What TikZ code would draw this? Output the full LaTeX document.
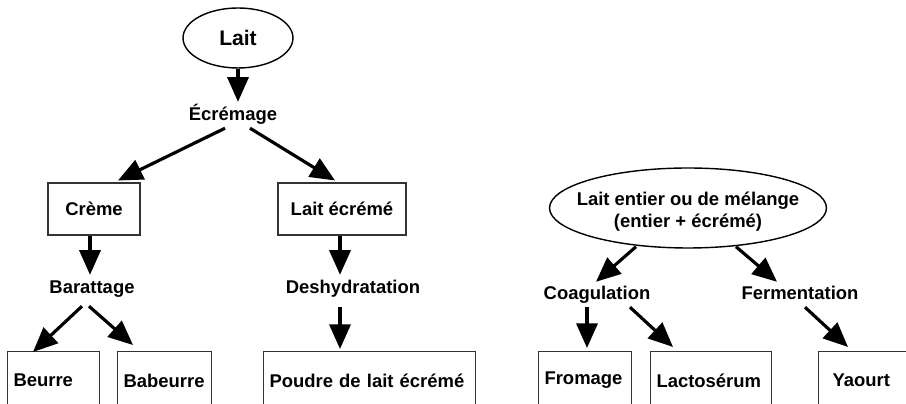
\documentclass[tikz,border=0pt]{standalone}
\usepackage{fontspec}
\setmainfont{Liberation Sans}
\usetikzlibrary{arrows.meta,shapes.geometric,calc,positioning}

\tikzset{
  etape/.style={font=\bfseries\fontsize{10.5}{12.6}\selectfont, inner sep=1pt, text height=9pt, text depth=2.5pt},
  produit/.style={draw=black!80, line width=0.6pt, rectangle, minimum height=1.04cm, font=\bfseries\fontsize{10.5}{12.6}\selectfont},
  bas/.style={produit, anchor=north west, minimum height=1.16cm, inner xsep=0.12cm, align=left},
  fleche/.style={-{Triangle[length=14pt,width=12pt]}, line width=1.8pt},
}

\begin{document}
\begin{tikzpicture}[x=0.02cm, y=-0.02cm]
        \useasboundingbox (0,0) rectangle (906,404);
        \clip (0,0) rectangle (906,404);

        % Left tree
        \node (lait) [draw, ellipse, line width=0.8pt, minimum width=2.2cm, minimum height=1.2cm, font=\bfseries\fontsize{12}{14}\selectfont] at (238,38) {Lait};
        \node (ecremage) [etape] at (233,115) {Écrémage};
        \node (creme) [produit, minimum width=1.84cm] at (94,209) {Crème};
        \node (laitecreme) [produit, minimum width=2.56cm] at (342,209) {Lait écrémé};
        \node (barattage) [etape] at (92,288) {Barattage};
        \node (deshydratation) [etape] at (353,288) {Deshydratation};
        \node (beurre) [bas, text width=1.60cm] at (7,351) {Beurre};
        \node (babeurre) [bas, text width=1.64cm] at (117,351) {Babeurre};
        \node (poudre) [bas, text width=4.00cm] at (263,351) {Poudre de lait écrémé};

        \draw[fleche] (lait.south) -- ($(lait.south |- ecremage.north)+(0,-1)$);
        \draw[fleche] ($(ecremage.south)+(-8,1)$) -- ($(creme.north)+(24,-2)$);
        \draw[fleche] ($(ecremage.south)+(17,1)$) -- ($(laitecreme.north)+(-7,-2)$);
        \draw[fleche] ($(creme.south)+(-4,0)$) -- ($(creme.south |- barattage.north)+(-4,-1)$);
        \draw[fleche] ($(barattage.south)+(-10,6)$) -- ($(beurre.north west)+(26,1)$);
        \draw[fleche] ($(barattage.south)+(-3,6)$) -- ($(babeurre.north west)+(16,-6)$);
        \draw[fleche] ($(laitecreme.south)+(-2,0)$) -- ($(laitecreme.south |- deshydratation.north)+(-2,-1)$);
        \draw[fleche] ($(deshydratation.south)+(-13,7)$) -- ($(poudre.north west)+(77,-2)$);

        % Right tree
        \node (entier) [draw, ellipse, line width=0.8pt, minimum width=5.54cm, minimum height=1.6cm] at (688,208) {};
        \node (entiertexte) [etape, align=center, text height=, text depth=] at ($(entier)+(0,4)$) {Lait entier ou de mélange\\(entier + écrémé)};
        \node (coagulation) [etape] at (597,294) {Coagulation};
        \node (fermentation) [etape] at (800,294) {Fermentation};
        \node (fromage) [bas, text width=1.62cm] at (538,351) {Fromage};
        \node (lactoserum) [bas, text width=2.18cm] at (650,351) {Lactosérum};
        \node (yaourt) [bas, inner xsep=0.28cm, text width=1.5cm] at (818,351) {Yaourt};

        \draw[fleche] ($(entier.south)+(-52,-2)$) -- ($(coagulation.north)+(-1,0)$);
        \draw[fleche] ($(entier.south)+(48,-2)$) -- ($(fermentation.north)+(-23,0)$);
        \draw[fleche] ($(coagulation.south)+(-10,1)$) -- ($(fromage.north west)+(49,-3)$);
        \draw[fleche] ($(coagulation.south)+(33,1)$) -- ($(lactoserum.north west)+(23,-4)$);
        \draw[fleche] ($(fermentation.south)+(5,1)$) -- ($(yaourt.north west)+(30,-4)$);

    \end{tikzpicture}
\end{document}
